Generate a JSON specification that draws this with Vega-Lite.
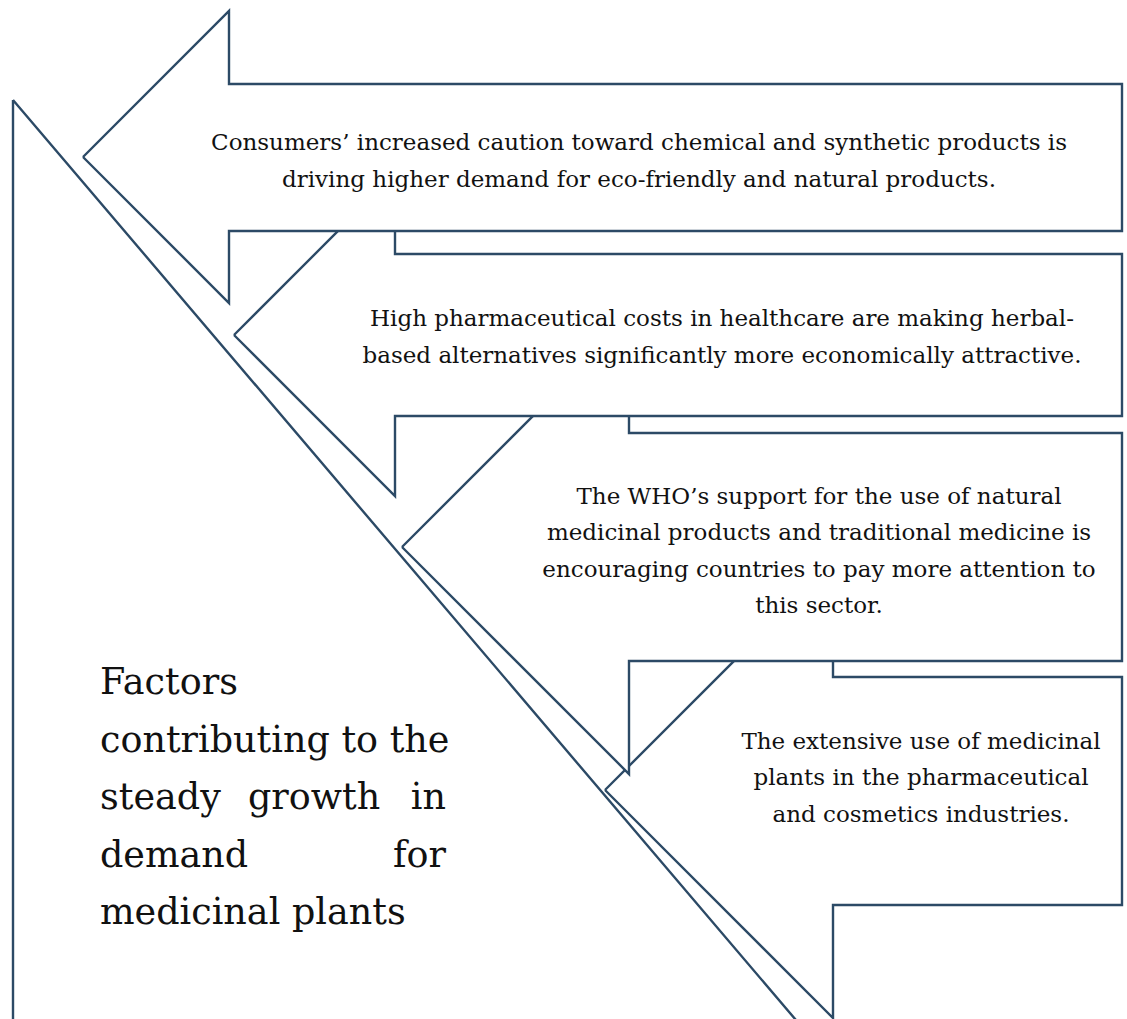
{
  "$schema": "https://vega.github.io/schema/vega-lite/v6.json",
  "width": 1127,
  "height": 1019,
  "autosize": {"type": "fit", "contains": "padding"},
  "padding": 0,
  "background": "white",
  "config": {"view": {"stroke": null}},
  "datasets": {
    "shapes": [
      {"shape": "T", "i": 0, "x": 13, "y": 100},
      {"shape": "T", "i": 1, "x": 13, "y": 1100},
      {"shape": "T", "i": 2, "x": 864, "y": 1100},
      {"shape": "T", "i": 3, "x": 13, "y": 100},
      {"shape": "A4", "i": 0, "x": 605, "y": 790},
      {"shape": "A4", "i": 1, "x": 833, "y": 562},
      {"shape": "A4", "i": 2, "x": 833, "y": 677},
      {"shape": "A4", "i": 3, "x": 1122, "y": 677},
      {"shape": "A4", "i": 4, "x": 1122, "y": 905},
      {"shape": "A4", "i": 5, "x": 833, "y": 905},
      {"shape": "A4", "i": 6, "x": 833, "y": 1018},
      {"shape": "A4", "i": 7, "x": 605, "y": 790},
      {"shape": "A3", "i": 0, "x": 402, "y": 547},
      {"shape": "A3", "i": 1, "x": 629, "y": 320},
      {"shape": "A3", "i": 2, "x": 629, "y": 433},
      {"shape": "A3", "i": 3, "x": 1122, "y": 433},
      {"shape": "A3", "i": 4, "x": 1122, "y": 661},
      {"shape": "A3", "i": 5, "x": 629, "y": 661},
      {"shape": "A3", "i": 6, "x": 629, "y": 774},
      {"shape": "A3", "i": 7, "x": 402, "y": 547},
      {"shape": "A2", "i": 0, "x": 234, "y": 335},
      {"shape": "A2", "i": 1, "x": 395, "y": 174},
      {"shape": "A2", "i": 2, "x": 395, "y": 254},
      {"shape": "A2", "i": 3, "x": 1122, "y": 254},
      {"shape": "A2", "i": 4, "x": 1122, "y": 416},
      {"shape": "A2", "i": 5, "x": 395, "y": 416},
      {"shape": "A2", "i": 6, "x": 395, "y": 496},
      {"shape": "A2", "i": 7, "x": 234, "y": 335},
      {"shape": "A1", "i": 0, "x": 83, "y": 157},
      {"shape": "A1", "i": 1, "x": 229, "y": 11},
      {"shape": "A1", "i": 2, "x": 229, "y": 84},
      {"shape": "A1", "i": 3, "x": 1122, "y": 84},
      {"shape": "A1", "i": 4, "x": 1122, "y": 231},
      {"shape": "A1", "i": 5, "x": 229, "y": 231},
      {"shape": "A1", "i": 6, "x": 229, "y": 303},
      {"shape": "A1", "i": 7, "x": 83, "y": 157}
    ],
    "labels": [
      {"x": 639, "y": 150, "text": "Consumers’ increased caution toward chemical and synthetic products is"},
      {"x": 639, "y": 187, "text": "driving higher demand for eco-friendly and natural products."},
      {"x": 722, "y": 326, "text": "High pharmaceutical costs in healthcare are making herbal-"},
      {"x": 722, "y": 363, "text": "based alternatives significantly more economically attractive."},
      {"x": 819, "y": 504, "text": "The WHO’s support for the use of natural"},
      {"x": 819, "y": 540, "text": "medicinal products and traditional medicine is"},
      {"x": 819, "y": 577, "text": "encouraging countries to pay more attention to"},
      {"x": 819, "y": 613, "text": "this sector."},
      {"x": 921, "y": 749, "text": "The extensive use of medicinal"},
      {"x": 921, "y": 785, "text": "plants in the pharmaceutical"},
      {"x": 921, "y": 822, "text": "and cosmetics industries."}
    ],
    "title": [
      {"x": 100, "y": 694, "text": "Factors", "side": "left"},
      {"x": 100, "y": 752, "text": "contributing to the", "side": "left"},
      {"x": 100, "y": 809, "text": "steady", "side": "left"},
      {"x": 248, "y": 809, "text": "growth", "side": "left"},
      {"x": 446, "y": 809, "text": "in", "side": "right"},
      {"x": 100, "y": 867, "text": "demand", "side": "left"},
      {"x": 446, "y": 867, "text": "for", "side": "right"},
      {"x": 100, "y": 924, "text": "medicinal plants", "side": "left"}
    ]
  },
  "encoding": {
    "x": {"field": "x", "type": "quantitative", "scale": {"domain": [0, 1127], "nice": false, "zero": false}, "axis": null},
    "y": {"field": "y", "type": "quantitative", "scale": {"domain": [0, 1019], "nice": false, "zero": false, "reverse": true}, "axis": null}
  },
  "layer": [
    {"data": {"name": "shapes"}, "transform": [{"filter": "datum.shape == 'T'"}],
     "mark": {"type": "line", "fill": "white", "stroke": "#2C4A66", "strokeWidth": 2.4, "strokeJoin": "miter", "clip": true},
     "encoding": {"order": {"field": "i", "type": "quantitative"}}},
    {"data": {"name": "shapes"}, "transform": [{"filter": "datum.shape == 'A4'"}],
     "mark": {"type": "line", "fill": "white", "stroke": "#2C4A66", "strokeWidth": 2.4, "strokeJoin": "miter", "clip": true},
     "encoding": {"order": {"field": "i", "type": "quantitative"}}},
    {"data": {"name": "shapes"}, "transform": [{"filter": "datum.shape == 'A3'"}],
     "mark": {"type": "line", "fill": "white", "stroke": "#2C4A66", "strokeWidth": 2.4, "strokeJoin": "miter", "clip": true},
     "encoding": {"order": {"field": "i", "type": "quantitative"}}},
    {"data": {"name": "shapes"}, "transform": [{"filter": "datum.shape == 'A2'"}],
     "mark": {"type": "line", "fill": "white", "stroke": "#2C4A66", "strokeWidth": 2.4, "strokeJoin": "miter", "clip": true},
     "encoding": {"order": {"field": "i", "type": "quantitative"}}},
    {"data": {"name": "shapes"}, "transform": [{"filter": "datum.shape == 'A1'"}],
     "mark": {"type": "line", "fill": "white", "stroke": "#2C4A66", "strokeWidth": 2.4, "strokeJoin": "miter", "clip": true},
     "encoding": {"order": {"field": "i", "type": "quantitative"}}},
    {"data": {"name": "labels"},
     "mark": {"type": "text", "font": "DejaVu Serif", "fontSize": 23, "color": "#111111", "align": "center", "baseline": "alphabetic"},
     "encoding": {"text": {"field": "text"}}},
    {"data": {"name": "title"}, "transform": [{"filter": "datum.side == 'left'"}],
     "mark": {"type": "text", "font": "DejaVu Serif", "fontSize": 36.5, "color": "#111111", "align": "left", "baseline": "alphabetic"},
     "encoding": {"text": {"field": "text"}}},
    {"data": {"name": "title"}, "transform": [{"filter": "datum.side == 'right'"}],
     "mark": {"type": "text", "font": "DejaVu Serif", "fontSize": 36.5, "color": "#111111", "align": "right", "baseline": "alphabetic"},
     "encoding": {"text": {"field": "text"}}}
  ]
}
